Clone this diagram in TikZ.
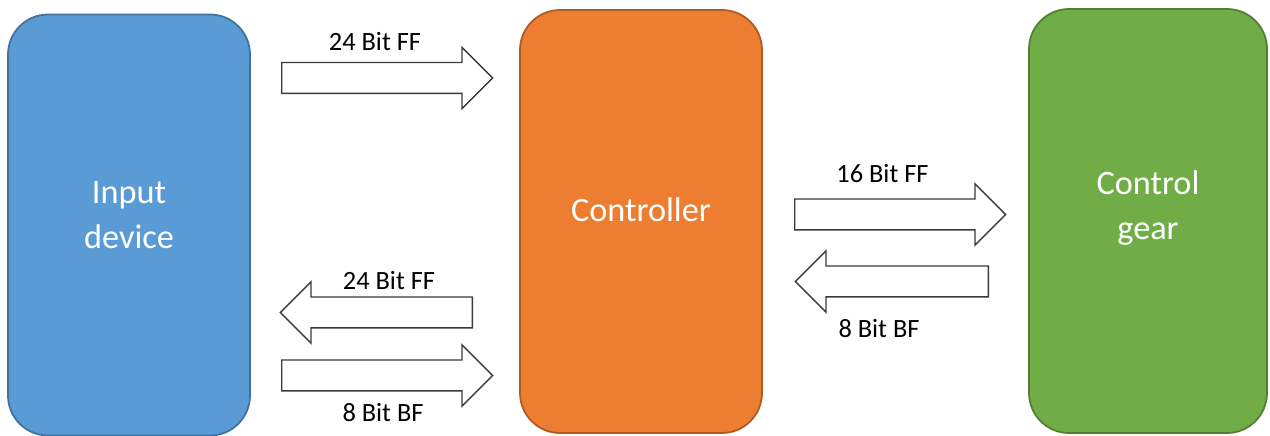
\documentclass[tikz,border=0pt]{standalone}
\usepackage{fontspec}
\setmainfont{Carlito}
\usetikzlibrary{shapes.arrows}
\definecolor{blueFill}{HTML}{5B9BD5}
\definecolor{blueLine}{HTML}{41719C}
\definecolor{orangeFill}{HTML}{ED7D31}
\definecolor{orangeLine}{HTML}{AE5A21}
\definecolor{greenFill}{HTML}{70AD47}
\definecolor{greenLine}{HTML}{507E32}
\definecolor{arrowLine}{HTML}{3A3A3A}

\begin{document}
\begin{tikzpicture}[
  % Block styles
  block/.style={
    rectangle,
    rounded corners=0.8cm,
    minimum width=4.84cm,
    minimum height=8.42cm,
    line width=1pt,
  },
  input block/.style={block, fill=blueFill, draw=blueLine},
  ctrl block/.style={block, fill=orangeFill, draw=orangeLine},
  gear block/.style={block, fill=greenFill, draw=greenLine},
  block text/.style={
    text=white,
    align=center,
    font=\fontsize{19.5}{26}\selectfont,
  },
  % Frame arrow styles
  frame arrow/.style={
    single arrow,
    anchor=tail,
    draw=arrowLine,
    fill=white,
    line width=0.8pt,
    inner sep=0pt,
    text height=0.59cm,
    text depth=0pt,
    minimum width=1.21cm,
    single arrow head extend=0.305cm,
    single arrow tip angle=90,
  },
  right frame/.style={frame arrow},
  left frame/.style={frame arrow, shape border rotate=180},
  frame label/.style={
    anchor=base,
    text=black,
    font=\fontsize{15}{18}\selectfont,
  },
]

  \useasboundingbox (0,0) rectangle (25.4,8.72);

  % Blocks
  \node[input block] (input) at (2.58, 4.22) {};
  \node[ctrl block, minimum height=8.46cm] (ctrl) at (12.82, 4.29) {};
  \node[gear block, minimum width=4.76cm, minimum height=8.48cm] (gear) at (22.96, 4.30) {};

  \node[block text] (input-text) at ([yshift=0.2cm]input.center) {Input\\device};
  \node[block text] (ctrl-text) at ([yshift=0.24cm]ctrl.center) {Controller};
  \node[block text] (gear-text) at ([yshift=0.26cm]gear.center) {Control\\gear};

  % Frames between input device and controller (placed by their tails)
  \node[right frame, minimum height=4.22cm] (ff-in) at (5.62, 7.16) {};
  \node[left frame, minimum height=3.84cm] (ff-back) at (9.46, 2.47) {};
  \node[right frame, minimum height=4.22cm] (bf-in) at (5.62, 1.21) {};

  % Frames between controller and control gear
  \node[right frame, minimum height=4.22cm] (ff-gear) at (15.88, 4.43) {};
  \node[left frame, minimum height=3.86cm] (bf-gear) at (19.78, 3.09) {};

  % Frame labels
  \node[frame label] (ff-in-lbl) at (7.50, 7.70) {24 Bit FF};
  \node[frame label] (ff-back-lbl) at (7.78, 2.92) {24 Bit FF};
  \node[frame label] (bf-in-lbl) at (7.66, 0.28) {8 Bit BF};
  \node[frame label] (ff-gear-lbl) at (17.65, 5.06) {16 Bit FF};
  \node[frame label] (bf-gear-lbl) at (17.58, 1.96) {8 Bit BF};

\end{tikzpicture}
\end{document}
